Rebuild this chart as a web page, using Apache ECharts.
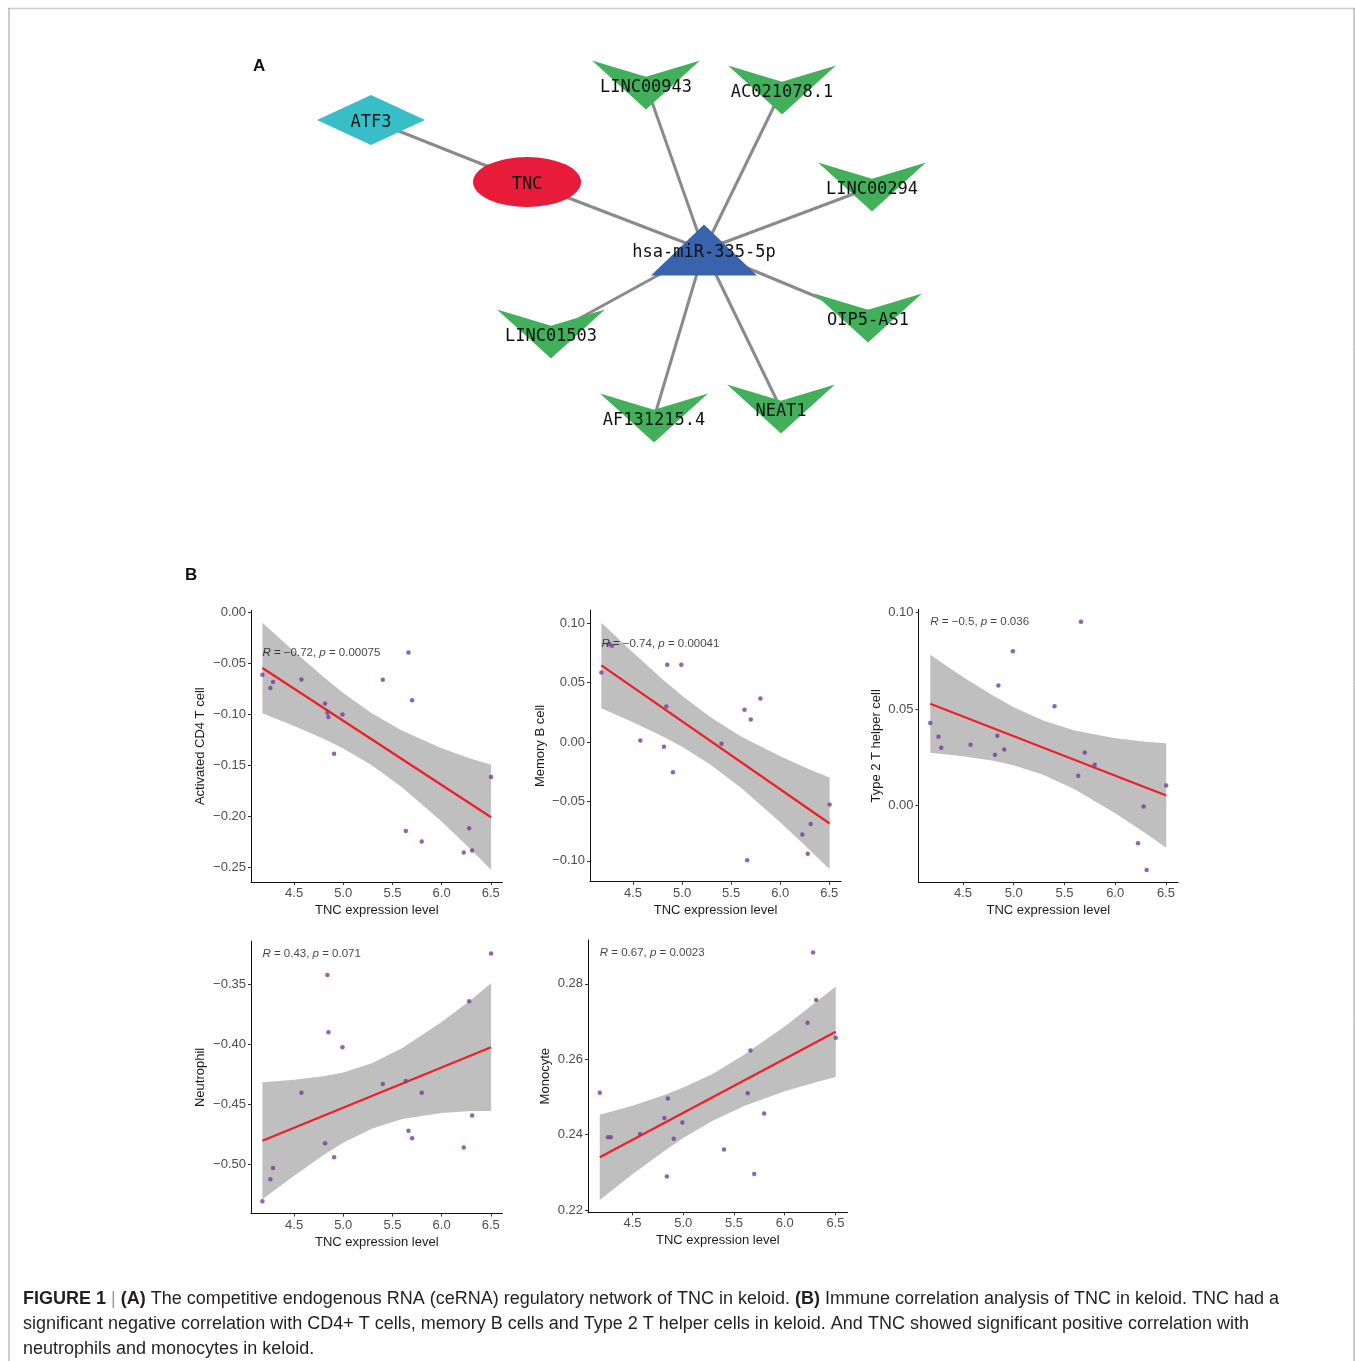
<!DOCTYPE html>
<html><head><meta charset="utf-8">
<script src="https://cdn.jsdelivr.net/npm/echarts@6/dist/echarts.min.js"></script>
<style>html,body{margin:0;padding:0;background:#fff}#c{width:1355px;height:1361px}</style>
</head><body><div id="c"></div>
<script>
// ---------------- DATA ----------------
// Panel A: ceRNA network
const netNodes = ['ATF3','TNC','hsa-miR-335-5p','LINC00943','AC021078.1','LINC00294','OIP5-AS1','NEAT1','AF131215.4','LINC01503'];
const netKinds = ['tf','gene','mirna','lnc','lnc','lnc','lnc','lnc','lnc','lnc'];
const netLinks = [['ATF3','TNC'],['TNC','hsa-miR-335-5p'],['hsa-miR-335-5p','LINC00943'],['hsa-miR-335-5p','AC021078.1'],
  ['hsa-miR-335-5p','LINC00294'],['hsa-miR-335-5p','OIP5-AS1'],['hsa-miR-335-5p','NEAT1'],['hsa-miR-335-5p','AF131215.4'],['hsa-miR-335-5p','LINC01503']];

// Panel B: immune correlation (18 samples)
const tncExpr   = [4.178,4.259,4.286,4.575,4.815,4.839,4.849,4.907,4.992,5.402,5.636,5.663,5.700,5.798,6.225,6.280,6.310,6.503];
const cd4T      = [-0.0608,-0.0739,-0.0680,-0.0654,-0.0889,-0.0980,-0.1023,-0.1382,-0.0997,-0.0657,-0.2140,-0.0389,-0.0859,-0.2242,-0.2350,-0.2114,-0.2330,-0.1610];
const memoryB   = [0.0585,0.0825,0.0810,0.0013,-0.0040,0.0299,0.0650,-0.0254,0.0650,-0.0013,0.0273,-0.0994,0.0190,0.0366,-0.0778,-0.0940,-0.0689,-0.0526];
const th2       = [0.0427,0.0357,0.0300,0.0315,0.0263,0.0362,0.0621,0.0291,0.0799,0.0514,0.0155,0.0951,0.0275,0.0212,-0.0194,-0.0004,-0.0332,0.0105];
const neutrophil= [-0.5308,-0.5125,-0.5030,-0.4403,-0.4825,-0.3422,-0.3900,-0.4942,-0.4025,-0.4331,-0.4306,-0.4720,-0.4783,-0.4403,-0.4861,-0.3642,-0.4594,-0.3244];
const monocyte  = [0.2511,0.2393,0.2393,0.2402,0.2444,0.2289,0.2496,0.2389,0.2432,0.2361,0.2510,0.2623,0.2296,0.2456,0.2697,0.2883,0.2757,0.2657];

// fitted line ends (at min / max TNC) and confidence band
const bandX = [4.178,4.5,4.8,5.0,5.29,5.6,6.0,6.3,6.503];
const fitCd4 = [-0.0542,-0.2005];
const upCd4  = [-0.0098,-0.0380,-0.0631,-0.0787,-0.0986,-0.1158,-0.1328,-0.1431,-0.1490];
const loCd4  = [-0.0986,-0.1110,-0.1235,-0.1331,-0.1496,-0.1714,-0.2048,-0.2323,-0.2520];
const fitMemB = [0.0645,-0.0685];
const upMemB  = [0.1005,0.0754,0.0529,0.0389,0.0208,0.0048,-0.0120,-0.0230,-0.0299];
const loMemB  = [0.0285,0.0168,0.0049,-0.0039,-0.0190,-0.0384,-0.0674,-0.0908,-0.1071];
const fitTh2 = [0.0527,0.0053];
const upTh2  = [0.0780,0.0666,0.0568,0.0509,0.0440,0.0389,0.0349,0.0331,0.0323];
const loTh2  = [0.0274,0.0256,0.0232,0.0209,0.0160,0.0085,-0.0039,-0.0143,-0.0217];
const fitNeu = [-0.4804,-0.4024];
const upNeu  = [-0.4316,-0.4296,-0.4267,-0.4235,-0.4158,-0.4031,-0.3814,-0.3629,-0.3492];
const loNeu  = [-0.5292,-0.5096,-0.4923,-0.4821,-0.4704,-0.4623,-0.4572,-0.4555,-0.4556];
const fitMono = [0.2340,0.2673];
const upMono  = [0.2453,0.2477,0.2504,0.2525,0.2561,0.2612,0.2687,0.2750,0.2793];
const loMono  = [0.2227,0.2295,0.2354,0.2391,0.2437,0.2476,0.2515,0.2538,0.2553];

const statR = ['\u22120.72','\u22120.74','\u22120.5','0.43','0.67'];
const statP = ['0.00075','0.00041','0.036','0.071','0.0023'];
const cellNames = ['Activated CD4 T cell','Memory B cell','Type 2 T helper cell','Neutrophil','Monocyte'];
const xTicks = [4.5,5.0,5.5,6.0,6.5];
const yTicksList = [[-0.25,-0.20,-0.15,-0.10,-0.05,0.00],[-0.10,-0.05,0.00,0.05,0.10],[0.00,0.05,0.10],[-0.50,-0.45,-0.40,-0.35],[0.22,0.24,0.26,0.28]];

// ---------------- LAYOUT ----------------
const nodePos = {
  'ATF3':[371,120],'TNC':[527,182],'hsa-miR-335-5p':[704,250],'LINC00943':[646,85],'AC021078.1':[782,90],
  'LINC00294':[872,187],'OIP5-AS1':[868,318],'NEAT1':[781,409],'AF131215.4':[654,418],'LINC01503':[551,334]
};
const kindStyle = {
  tf:{symbol:'diamond',size:[108,50],color:'#38BEC7'},
  gene:{symbol:'circle',size:[108,50],color:'#E91B3B'},
  mirna:{symbol:'triangle',size:[106,51],color:'#3A63AE'},
  lnc:{symbol:'path://M0,0 L54,16 L108,0 L54,48 Z',size:[108,49],color:'#42B05B'}
};
const panelLayout = [
  {left:251,top:610.4,width:251.5,height:271.6,yMin:-0.264,yMax:0.0023,nameGap:44},
  {left:590,top:610.2,width:251,height:271.5,yMin:-0.1175,yMax:0.111,nameGap:43},
  {left:918.5,top:609.4,width:259.5,height:272.9,yMin:-0.0396,yMax:0.1015,nameGap:36},
  {left:251,top:941.2,width:251.5,height:272.4,yMin:-0.5411,yMax:-0.3141,nameGap:44},
  {left:588,top:940,width:259.5,height:272.4,yMin:0.2194,yMax:0.2916,nameGap:36}
];
const panelY = [cd4T,memoryB,th2,neutrophil,monocyte];
const panelFit = [fitCd4,fitMemB,fitTh2,fitNeu,fitMono];
const panelUp = [upCd4,upMemB,upTh2,upNeu,upMono];
const panelLo = [loCd4,loMemB,loTh2,loNeu,loMono];

const FONT = 'Liberation Sans, Arial, sans-serif';
const minus = s => s.replace('-', '\u2212');

const grids = [{left:0,top:0,width:1355,height:1361}];
const xAxes = [{gridIndex:0,type:'value',min:0,max:1355,show:false}];
const yAxes = [{gridIndex:0,type:'value',min:0,max:1361,inverse:true,show:false}];
const series = [];

series.push({
  type:'graph', coordinateSystem:'cartesian2d', xAxisIndex:0, yAxisIndex:0, silent:true,
  data: netNodes.map((n,i)=>{ const k = kindStyle[netKinds[i]]; return {
    name:n, value:nodePos[n], symbol:k.symbol, symbolSize:k.size, itemStyle:{color:k.color}}; }),
  links: netLinks.map(l=>({source:l[0],target:l[1]})),
  lineStyle:{color:'#8a8a8a',width:3,opacity:1,curveness:0},
  label:{show:true,position:'inside',offset:[0,2.5],fontFamily:'DejaVu Sans Mono, monospace',fontSize:17,color:'#111'},
  z:2
});

panelLayout.forEach((p,k)=>{
  const gi = k+1;
  grids.push({left:p.left,top:p.top,width:p.width,height:p.height});
  xAxes.push({gridIndex:gi,type:'value',min:4.062,max:6.619,
    axisLine:{show:true,onZero:false,lineStyle:{color:'#111',width:1}},
    axisTick:{show:true,length:3,customValues:xTicks,lineStyle:{color:'#333'}},
    axisLabel:{customValues:xTicks,formatter:v=>v.toFixed(1),color:'#4d4d4d',fontSize:13,margin:5,fontFamily:FONT},
    splitLine:{show:false},
    name:'TNC expression level',nameLocation:'middle',nameGap:22,
    nameTextStyle:{fontSize:13,color:'#1a1a1a',fontFamily:FONT,verticalAlign:'top'}});
  const yt = yTicksList[k];
  yAxes.push({gridIndex:gi,type:'value',min:p.yMin,max:p.yMax,
    axisLine:{show:true,onZero:false,lineStyle:{color:'#111',width:1}},
    axisTick:{show:true,length:3,customValues:yt,lineStyle:{color:'#333'}},
    axisLabel:{customValues:yt,formatter:v=>minus(v.toFixed(2)),color:'#4d4d4d',fontSize:13,margin:5,fontFamily:FONT},
    splitLine:{show:false},
    name:cellNames[k],nameLocation:'middle',nameGap:p.nameGap,nameRotate:90,
    nameTextStyle:{fontSize:13,color:'#1a1a1a',fontFamily:FONT}});
  const up = panelUp[k], lo = panelLo[k];
  series.push({type:'custom',xAxisIndex:gi,yAxisIndex:gi,silent:true,z:1,
    data:bandX.map((x,i)=>[x,up[i],lo[i]]),
    encode:{x:0,y:[1,2]},
    renderItem:(params,api)=>{
      if (params.dataIndex !== 0) return null;
      const pts = bandX.map((x,i)=>api.coord([x,up[i]]))
        .concat(bandX.map((x,i)=>api.coord([x,lo[i]])).reverse());
      return {type:'polygon',shape:{points:pts},style:{fill:'#bfbfbf'}};
    }});
  const fit = panelFit[k];
  series.push({type:'line',xAxisIndex:gi,yAxisIndex:gi,
    data:[[tncExpr[0],fit[0]],[tncExpr[tncExpr.length-1],fit[1]]],
    symbol:'none',lineStyle:{color:'#EE1F26',width:2.2},silent:true,z:3});
  const ys = panelY[k];
  series.push({type:'scatter',xAxisIndex:gi,yAxisIndex:gi,data:tncExpr.map((x,i)=>[x,ys[i]]),
    symbolSize:4.5,itemStyle:{color:'#7B3B98'},silent:true,z:4});
  series.push({type:'scatter',xAxisIndex:gi,yAxisIndex:gi,
    data:[[Math.min(...tncExpr),Math.max(...ys)]],symbolSize:0,silent:true,z:5,
    label:{show:true,position:'right',distance:0,
      formatter:'{i|R} = '+statR[k]+', {i|p} = '+statP[k],
      fontSize:11.5,color:'#111',fontFamily:FONT,
      rich:{i:{fontStyle:'italic',fontSize:11.5,color:'#111',fontFamily:FONT}}}});
});

const capStyle = {fontSize:18,fill:'#231f20',fontFamily:FONT};
const capRich = {b:{fontWeight:'bold',fontSize:18,fontFamily:FONT,fill:'#231f20'},
                 s:{fontSize:18,fontFamily:FONT,fill:'#999'}};
const graphics = [
  {type:'line',shape:{x1:8,y1:8.5,x2:1355,y2:8.5},style:{stroke:'#cfcfcf',lineWidth:1.5}},
  {type:'line',shape:{x1:9,y1:8,x2:9,y2:1361},style:{stroke:'#9a9a9a',lineWidth:1}},
  {type:'line',shape:{x1:1354,y1:8,x2:1354,y2:1361},style:{stroke:'#9a9a9a',lineWidth:1}},
  {type:'text',left:253,top:58,style:{text:'A',fontSize:17,fontWeight:'bold',fontFamily:FONT,fill:'#111'}},
  {type:'text',left:185,top:567,style:{text:'B',fontSize:17,fontWeight:'bold',fontFamily:FONT,fill:'#111'}},
  {type:'text',left:23,top:1290,style:Object.assign({text:'{b|FIGURE 1} {s||} {b|(A)} The competitive endogenous RNA (ceRNA) regulatory network of TNC in keloid. {b|(B)} Immune correlation analysis of TNC in keloid. TNC had a',rich:capRich},capStyle)},
  {type:'text',left:23,top:1315,style:Object.assign({text:'significant negative correlation with CD4+ T cells, memory B cells and Type 2 T helper cells in keloid. And TNC showed significant positive correlation with'},capStyle)},
  {type:'text',left:23,top:1340,style:Object.assign({text:'neutrophils and monocytes in keloid.'},capStyle)}
];

const chart = echarts.init(document.getElementById('c'),null,{renderer:'canvas'});
chart.setOption({animation:false,backgroundColor:'#fff',grid:grids,xAxis:xAxes,yAxis:yAxes,series:series,graphic:graphics});
</script></body></html>
